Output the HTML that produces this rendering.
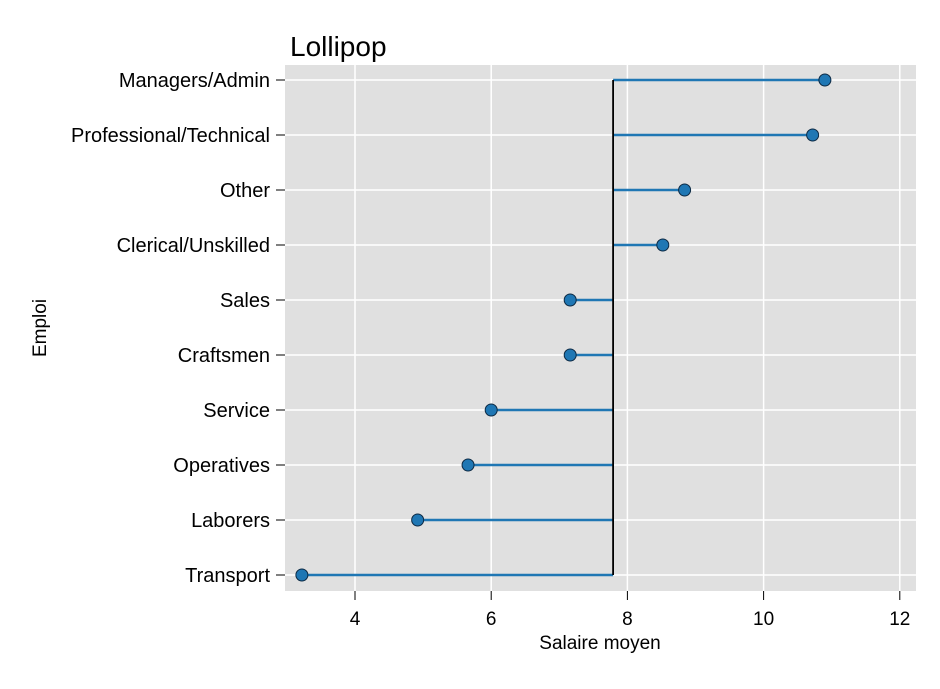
<!DOCTYPE html>
<html><head><meta charset="utf-8"><style>
body{margin:0;background:#fff;}
svg text{font-family:"Liberation Sans",Arial,sans-serif;}
</style></head><body>
<svg id="chart" width="940" height="684">
<rect x="0" y="0" width="940" height="684" fill="#fff"/>
<text x="290" y="56" font-size="28" fill="#000">Lollipop</text>
<rect x="285" y="65" width="631" height="526" fill="#e0e0e0"/>
<g id="grid"></g><g id="marks"></g><g id="axes"></g>
<text x="600" y="649" font-size="19" text-anchor="middle">Salaire moyen</text>
<text transform="translate(46,328) rotate(-90)" font-size="19" text-anchor="middle">Emploi</text>
</svg>
<script>
const categories=["Managers/Admin","Professional/Technical","Other","Clerical/Unskilled","Sales","Craftsmen","Service","Operatives","Laborers","Transport"];
const values=[10.9,10.72,8.84,8.52,7.16,7.16,6.0,5.66,4.92,3.22];
const baseline=7.79;
const xTicks=[4,6,8,10,12];
const NS="http://www.w3.org/2000/svg";
function xs(v){return 355+(v-4)*68.1;}
function ys(i){return 80+i*55;}
function mk(t,a,p){const e=document.createElementNS(NS,t);for(const k in a)e.setAttribute(k,a[k]);p.appendChild(e);return e;}
const g=document.getElementById('grid'),m=document.getElementById('marks'),ax=document.getElementById('axes');
xTicks.forEach(t=>{
 const l=mk('line',{x1:xs(t),x2:xs(t),y1:65,y2:591,stroke:'#fff','stroke-width':1.5},g);
 
 
 const tk=mk('line',{x1:xs(t),x2:xs(t),y1:591,y2:600,stroke:'#000','stroke-width':1},ax);
 
 
 const tx=mk('text',{x:xs(t),y:625,'font-size':19,'text-anchor':'middle'},ax);
 tx.textContent=t;
 
 
});
categories.forEach((c,i)=>{
 const y=ys(i);
 const l=mk('line',{x1:285,x2:916,y1:y,y2:y,stroke:'#fff','stroke-width':1.5},g);
 
 
 const tk=mk('line',{x1:276,x2:285,y1:y,y2:y,stroke:'#000','stroke-width':1},ax);
 
 
 const tx=mk('text',{x:270,y:y+7,'font-size':20,'text-anchor':'end'},ax);
 tx.textContent=c;
 
 
 const st=mk('line',{x1:xs(baseline),x2:xs(values[i]),y1:y,y2:y,stroke:'#1f77b4','stroke-width':2.5},m);
 
 
});
const bl=mk('line',{x1:xs(baseline),x2:xs(baseline),y1:ys(0),y2:ys(categories.length-1),stroke:'#000','stroke-width':1.8},m);


categories.forEach((c,i)=>{
 const d=mk('circle',{cx:xs(values[i]),cy:ys(i),r:6,fill:'#1f77b4',stroke:'#0d2a44','stroke-width':1},m);
 
 
});
</script>
</body></html>
